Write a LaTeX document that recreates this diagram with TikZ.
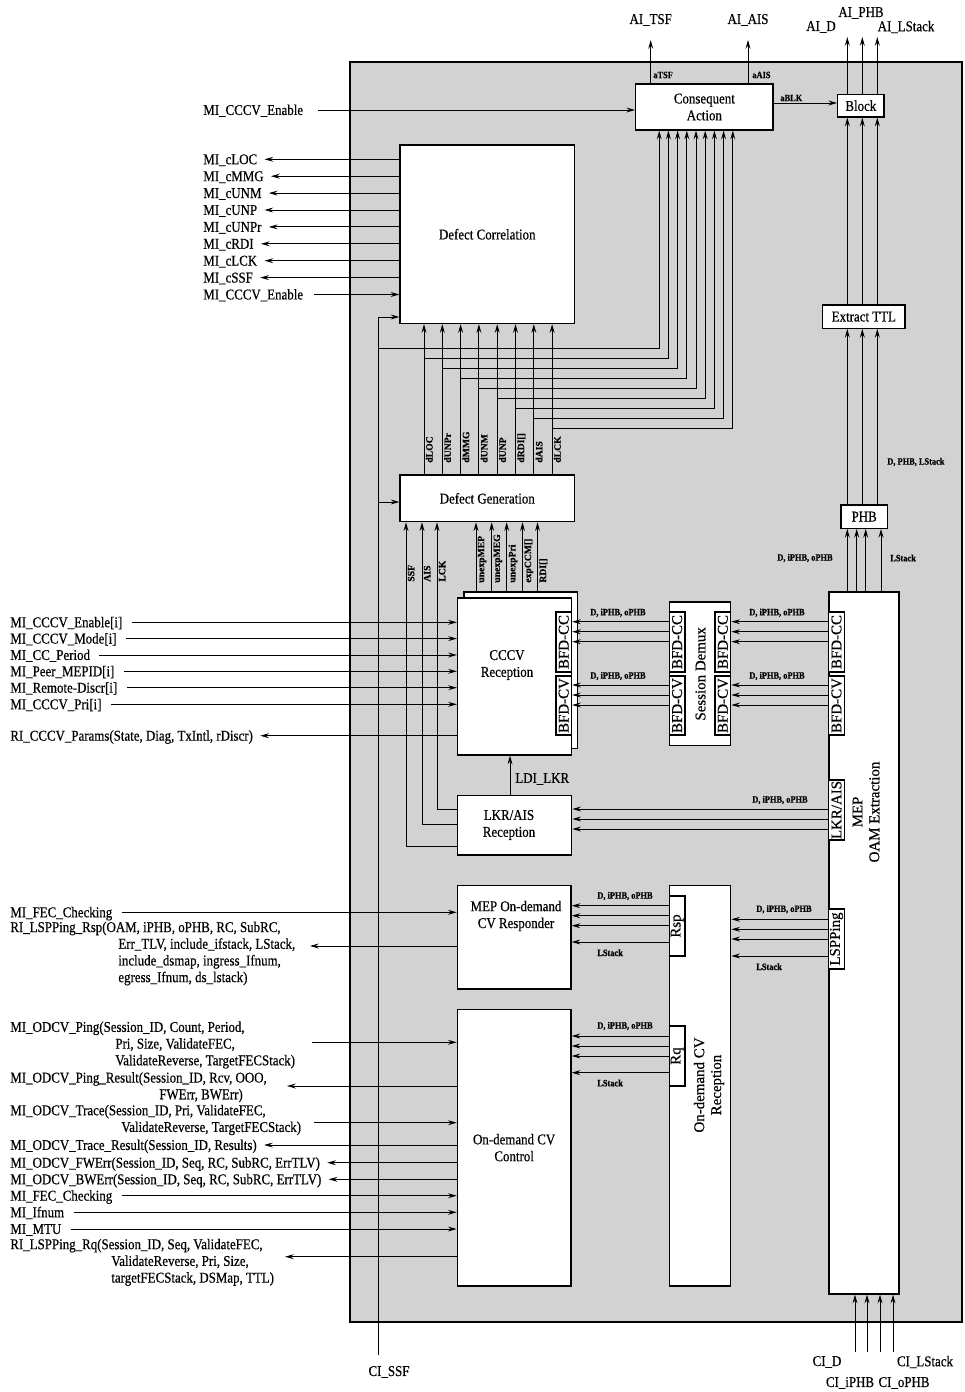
\documentclass[tikz,border=0pt]{standalone}
\usepackage{fontspec}
\setmainfont{Liberation Serif}[FakeStretch=0.865,FakeBold=0.5]
\newfontfamily\rotfont{Liberation Serif}[FakeBold=0.5]
\usetikzlibrary{arrows.meta,calc}
\newlength\pxu
\setlength\pxu{0.02cm}
\tikzset{
  blk/.style={draw,fill=white,line width=0.7pt,inner sep=0pt,align=center,
    font=\fontsize{8.5}{9.6}\selectfont},
  sub/.style={draw,fill=white,line width=0.7pt,inner sep=0pt,rotate=90,
    minimum height=15.5\pxu,font=\rotfont\fontsize{8.5}{9.6}\selectfont},
  sig/.style={inner sep=0pt,anchor=west,text height=5.6pt,text depth=0pt,
    font=\fontsize{8.5}{9.5}\selectfont},
  sigm/.style={inner sep=0pt,anchor=west,align=left,font=\fontsize{8.5}{9.5}\selectfont},
  small/.style={inner sep=0pt,anchor=west,font=\bfseries\fontsize{5.5}{6}\selectfont},
  vsmall/.style={inner sep=0pt,rotate=90,anchor=north west,
    font=\rotfont\bfseries\fontsize{5.5}{6}\selectfont},
  io/.style={inner sep=0pt,align=center,font=\fontsize{8.5}{9.6}\selectfont},
  rio/.style={inner sep=0pt,rotate=90,align=center,font=\rotfont\fontsize{8.5}{9.6}\selectfont},
  arr/.style={-{Stealth[length=5pt,width=2.8pt,inset=1.8pt]},line width=0.55pt},
  ln/.style={line width=0.55pt}
}
\begin{document}
\begin{tikzpicture}[x=0.02cm,y=-0.02cm]
\useasboundingbox (0,0) rectangle (964,1392);
\fill[gray!35,draw=black,line width=0.7pt] (350,62) rectangle (962,1322);

% blocks
\node[blk,minimum width=137.3\pxu,minimum height=46\pxu] (cact) at (704.35,107) {Consequent\\Action};
\node[blk,minimum width=46.3\pxu,minimum height=22.5\pxu] (block) at (860.85,105.75) {Block};
\node[blk,minimum width=82.3\pxu,minimum height=23.3\pxu] (ettl) at (863.85,316.65) {Extract TTL};
\node[blk,minimum width=46.3\pxu,minimum height=23.3\pxu] (phb) at (864.15,516.65) {PHB};
\node[blk,minimum width=174.5\pxu,minimum height=178.5\pxu] (dcorr) at (487.25,234.25) {Defect Correlation};
\node[blk,minimum width=174.5\pxu,minimum height=46.7\pxu] (defgen) at (487.25,498.35) {Defect Generation};
\node[blk,minimum width=113.5\pxu,minimum height=156.5\pxu] (cccvb) at (520.75,670.25) {};
\node[blk,minimum width=114\pxu,minimum height=157\pxu] (cccv) at (514.5,676.5) {};
\node[io] (cccvtxt) at (507,665) {CCCV\\Reception};
\node[sub,minimum width=60\pxu] (cccvcc) at (563.75,642) {BFD-CC};
\node[sub,minimum width=59\pxu] (cccvcv) at (563.75,705.5) {BFD-CV};
\node[blk,minimum width=61.4\pxu,minimum height=143.7\pxu] (sdmx) at (700,673.85) {};
\node[rio] (sdmxtxt) at (700.5,673.85) {Session Demux};
\node[sub,minimum width=60\pxu] (sdmxcc1) at (677.15,642) {BFD-CC};
\node[sub,minimum width=59\pxu] (sdmxcv1) at (677.15,705.5) {BFD-CV};
\node[sub,minimum width=60\pxu] (sdmxcc2) at (722.85,642) {BFD-CC};
\node[sub,minimum width=59\pxu] (sdmxcv2) at (722.85,705.5) {BFD-CV};
\node[blk,minimum width=70\pxu,minimum height=702\pxu] (mep) at (864,943) {};
\node[rio] (meptxt) at (866,812) {MEP\\OAM Extraction};
\node[sub,minimum width=60\pxu] (mepcc) at (836.5,642) {BFD-CC};
\node[sub,minimum width=59\pxu] (mepcv) at (836.5,705.5) {BFD-CV};
\node[sub,minimum width=60\pxu] (meplkr) at (836.5,810) {LKR/AIS};
\node[sub,minimum width=60\pxu] (meplsp) at (836.5,939) {LSPPing};
\node[blk,minimum width=114\pxu,minimum height=59.3\pxu] (lkr) at (514.7,825.35) {};
\node[io] (lkrtxt) at (509,825) {LKR/AIS\\Reception};
\node[blk,minimum width=113.7\pxu,minimum height=103.3\pxu] (odresp) at (514.15,937.35) {};
\node[io] (odresptxt) at (516,916) {MEP On-demand\\CV Responder};
\node[blk,minimum width=61.4\pxu,minimum height=400.3\pxu] (odrx) at (700,1085.85) {};
\node[rio] (odrxtxt) at (709,1085) {On-demand CV\\Reception};
\node[sub,minimum width=60\pxu] (odrxrsp) at (677.15,926) {Rsp};
\node[sub,minimum width=60\pxu] (odrxrq) at (677.15,1056) {Rq};
\node[blk,minimum width=113.7\pxu,minimum height=276.7\pxu] (odctl) at (514.15,1147.65) {On-demand CV\\Control};

% CI_SSF
\node[io] (cissf) at (389,1372) {CI\_SSF};
\coordinate (ssfbot) at (378,1355);
\draw[arr] (ssfbot) -- (ssfbot |- 0,317) -- (dcorr.west |- 0,317);
\draw[arr] (ssfbot |- 0,502) -- (defgen.west |- 0,502);
\draw[arr] (ssfbot |- 0,348) -- (659.2,348) -- (659.2,0 |- cact.south);

% defects
\foreach \nm [count=\i] in {dLOC,dUNPr,dMMG,dUNM,dUNP,{dRDI[]},dAIS,dLCK}{
  \pgfmathsetmacro\dfx{424+18.3*(\i-1)}
  \pgfmathsetmacro\hy{348+10*\i}
  \pgfmathsetmacro\cfx{659.2+9.2*\i}
  \draw[arr] (\dfx,0 |- defgen.north) -- (\dfx,0 |- dcorr.south);
  \draw[arr] (\dfx,\hy) -- (\cfx,\hy) -- (\cfx,0 |- cact.south);
  \node[vsmall] at (\dfx+1.5,463) {\nm};
}
\foreach \nm/\x in {unexpMEP/476,unexpMEG/491.7,unexpPri/506.7,{expCCM[]}/522.5,{RDI[]}/537.5}{
  \draw[arr] (\x,0 |- cccvb.north) -- (\x,0 |- defgen.south);
  \node[vsmall] at (\x+1.5,583) {\nm};
}
\foreach \nm/\x/\y in {SSF/406/846,AIS/422/824,LCK/437/809}{
  \draw[arr] (lkr.west |- 0,\y) -| (\x,0 |- defgen.south);
  \node[vsmall] at (\x+1.5,582) {\nm};
}
\draw[arr] (510,0 |- lkr.north) -- (510,0 |- cccv.south);
\node[sig] (ldilkr) at (515,778) {LDI\_LKR};

% BFD paths
\foreach \y in {621.7,631.7,641.7,685,695,705}{
  \draw[arr] (sdmx.west |- 0,\y) -- (cccv.east |- 0,\y);
  \draw[arr] (mep.west |- 0,\y) -- (sdmx.east |- 0,\y);
}
\foreach \y in {612.7,676}{
  \node[small] at (590,\y) {D, iPHB, oPHB};
  \node[small] at (749,\y) {D, iPHB, oPHB};
}
\foreach \y in {809,819,829} \draw[arr] (mep.west |- 0,\y) -- (lkr.east |- 0,\y);
\node[small] at (752,800) {D, iPHB, oPHB};
\foreach \y in {919.3,929.3,939,956} \draw[arr] (mep.west |- 0,\y) -- (odrx.east |- 0,\y);
\node[small] at (756,909.3) {D, iPHB, oPHB};
\node[small] at (756,966.7) {LStack};
\foreach \y in {905.7,915.7,925.7,942} \draw[arr] (odrx.west |- 0,\y) -- (odresp.east |- 0,\y);
\node[small] at (597,896) {D, iPHB, oPHB};
\node[small] at (597,952.7) {LStack};
\foreach \y in {1036,1046,1056,1072.7} \draw[arr] (odrx.west |- 0,\y) -- (odctl.east |- 0,\y);
\node[small] at (597,1026) {D, iPHB, oPHB};
\node[small] at (597,1083) {LStack};

% right column
\foreach \x in {847.3,856.7,865.7,881} \draw[arr] (\x,0 |- mep.north) -- (\x,0 |- phb.south);
\foreach \x in {847.3,862.3,877.3}{
  \draw[arr] (\x,0 |- phb.north) -- (\x,0 |- ettl.south);
  \draw[arr] (\x,0 |- ettl.north) -- (\x,0 |- block.south);
  \draw[arr] (\x,0 |- block.north) -- (\x,37);
}
\node[small] at (777,558) {D, iPHB, oPHB};
\node[small] at (890,558) {LStack};
\node[small] at (887,462) {D, PHB, LStack};
\node[io] (aid) at (821,27) {AI\_D};
\node[io] (aiphb) at (861,13) {AI\_PHB};
\node[io] (ails) at (906,27) {AI\_LStack};
\node[io] (cid) at (827,1362) {CI\_D};
\node[io] (ciiphb) at (850,1383) {CI\_iPHB};
\node[io] (ciophb) at (904,1383) {CI\_oPHB};
\node[io] (cils) at (925,1362) {CI\_LStack};
\foreach \x in {855,867,880,893} \draw[arr] (\x,1352) -- (\x,0 |- mep.south);

% consequent action
\node[io] (aitsf) at (650.7,20) {AI\_TSF};
\node[io] (aiais) at (748,20) {AI\_AIS};
\draw[arr] (aitsf.south |- cact.north) -- (aitsf.south |- 0,40);
\draw[arr] (aiais.south |- cact.north) -- (aiais.south |- 0,40);
\node[small] at (653,75) {aTSF};
\node[small] at (752,75) {aAIS};
\draw[arr] (cact.east |- 0,103) -- (block.west |- 0,103);
\node[small] at (780,98) {aBLK};

% management signals, top
\node[sig] (enb) at (203,110) {MI\_CCCV\_Enable};
\draw[arr] ([xshift=15\pxu]enb.east) -- (cact.west |- enb.east);
\foreach \nm [count=\i] in {cLOC,cMMG,cUNM,cUNP,cUNPr,cRDI,cLCK,cSSF}{
  \node[sig] (mic\i) at (203,{142.4+16.9*\i}) {MI\_\nm};
  \draw[arr] (dcorr.west |- mic\i.east) -- ([xshift=7\pxu]mic\i.east);
}
\node[sig] (enb2) at (203,294.5) {MI\_CCCV\_Enable};
\draw[arr] ([xshift=11\pxu]enb2.east) -- (dcorr.west |- enb2.east);

% CCCV signals
\foreach \nm/\y [count=\i] in {{MI\_CCCV\_Enable[i]}/622.3,{MI\_CCCV\_Mode[i]}/638.6,{MI\_CC\_Period}/655,{MI\_Peer\_MEPID[i]}/671.3,{MI\_Remote-Discr[i]}/687.7,{MI\_CCCV\_Pri[i]}/704.3}{
  \node[sig] (mcv\i) at (10,\y) {\nm};
  \draw[arr] ([xshift=9\pxu]mcv\i.east) -- (cccv.west |- mcv\i.east);
}
\node[sig] (params) at (10,735.7) {RI\_CCCV\_Params(State, Diag, TxIntl, rDiscr)};
\draw[arr] (cccv.west |- params.east) -- ([xshift=7\pxu]params.east);

% responder signals
\node[sig] (fec1) at (10,912.3) {MI\_FEC\_Checking};
\draw[arr] ([xshift=9\pxu]fec1.east) -- (odresp.west |- fec1.east);
\node[sigm] (lsprsp) at (10,953.5) {RI\_LSPPing\_Rsp(OAM, iPHB, oPHB, RC, SubRC,\\\hspace*{108\pxu}Err\_TLV, include\_ifstack, LStack,\\\hspace*{108\pxu}include\_dsmap, ingress\_Ifnum,\\\hspace*{108\pxu}egress\_Ifnum, ds\_lstack)};
\coordinate (rsptip) at (310,946);
\draw[arr] (odresp.west |- rsptip) -- (rsptip);

% on-demand control signals
\node[sigm] (ping) at (10,1045) {MI\_ODCV\_Ping(Session\_ID, Count, Period,\\\hspace*{105\pxu}Pri, Size, ValidateFEC,\\\hspace*{105\pxu}ValidateReverse, TargetFECStack)};
\coordinate (pingin) at (311.7,1042.3);
\draw[arr] (pingin) -- (odctl.west |- pingin);
\node[sigm] (pingres) at (10,1087.3) {MI\_ODCV\_Ping\_Result(Session\_ID, Rcv, OOO,\\\hspace*{149\pxu}FWErr, BWErr)};
\coordinate (pingrestip) at (287,1086);
\draw[arr] (odctl.west |- pingrestip) -- (pingrestip);
\node[sigm] (trace) at (10,1120) {MI\_ODCV\_Trace(Session\_ID, Pri, ValidateFEC,\\\hspace*{111\pxu}ValidateReverse, TargetFECStack)};
\coordinate (tracein) at (314,1122.7);
\draw[arr] (tracein) -- (odctl.west |- tracein);
\foreach \nm/\y [count=\i] in {{MI\_ODCV\_Trace\_Result(Session\_ID, Results)}/1145,{MI\_ODCV\_FWErr(Session\_ID, Seq, RC, SubRC, ErrTLV)}/1162.7,{MI\_ODCV\_BWErr(Session\_ID, Seq, RC, SubRC, ErrTLV)}/1179.3}{
  \node[sig] (odo\i) at (10,\y) {\nm};
  \draw[arr] (odctl.west |- odo\i.east) -- ([xshift=7\pxu]odo\i.east);
}
\foreach \nm/\y [count=\i] in {{MI\_FEC\_Checking}/1195.7,{MI\_Ifnum}/1212.3,{MI\_MTU}/1229}{
  \node[sig] (odi\i) at (10,\y) {\nm};
  \draw[arr] ([xshift=9\pxu]odi\i.east) -- (odctl.west |- odi\i.east);
}
\node[sigm] (lsprq) at (10,1262.3) {RI\_LSPPing\_Rq(Session\_ID, Seq, ValidateFEC,\\\hspace*{101\pxu}ValidateReverse, Pri, Size,\\\hspace*{101\pxu}targetFECStack, DSMap, TTL)};
\coordinate (rqtip) at (285,1256.7);
\draw[arr] (odctl.west |- rqtip) -- (rqtip);
\end{tikzpicture}
\end{document}
